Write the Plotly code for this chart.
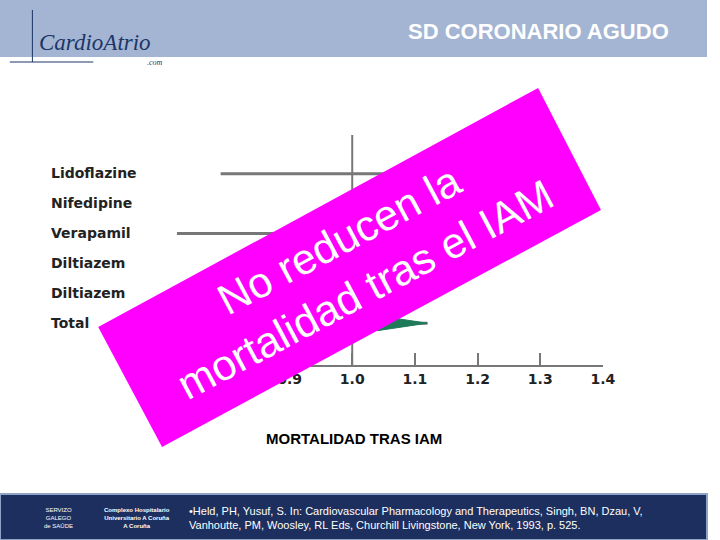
import plotly.graph_objects as go

# forest plot data (relative risk, 95% CI) - mostly hidden behind the overlay
studies = ["Lidoflazine", "Nifedipine", "Verapamil", "Diltiazem", "Diltiazem", "Total"]
rows = [6, 5, 4, 3, 2, 1]
rr = [1.10, 1.08, 0.93, 0.98, 1.0, 1.04]
ci_low = [0.79, 0.98, 0.72, 0.85, 0.86, 0.97]
ci_high = [1.30, 1.20, 1.20, 1.13, 1.13, 1.12]
ticks = [0.9, 1.0, 1.1, 1.2, 1.3, 1.4]

W, H = 720, 540


def px(x):
    return x / W


def py(y):
    return 1 - y / H


def note(x, y, text, size, color="white", family="Liberation Sans", xanchor="center", **kw):
    fig.add_annotation(x=px(x), y=py(y), xref="paper", yref="paper", text=text,
                       showarrow=False, xanchor=xanchor, yanchor="middle",
                       font=dict(family=family, size=size, color=color), **kw)


fig = go.Figure()

# CI lines
for y, lo, hi in zip(rows, ci_low, ci_high):
    fig.add_trace(go.Scatter(x=[lo, hi], y=[y, y], mode="lines",
                             line=dict(color="#777777", width=3), hoverinfo="skip"))
fig.add_trace(go.Scatter(x=rr[:-1], y=rows[:-1], mode="markers",
                         marker=dict(symbol="square", size=8, color="#1f7a5a")))
fig.add_trace(go.Scatter(x=[ci_low[-1], rr[-1], ci_high[-1], rr[-1], ci_low[-1]],
                         y=[1, 1.25, 1, 0.75, 1], mode="lines", fill="toself",
                         fillcolor="#1f7a5a", line=dict(color="#1f7a5a", width=1)))

fig.update_layout(
    width=W, height=H, showlegend=False,
    margin=dict(l=0, r=0, t=0, b=0),
    paper_bgcolor="white", plot_bgcolor="white",
    xaxis=dict(domain=[px(180), px(614)], range=[0.72, 1.4], tickvals=ticks,
               ticktext=[f"<b>{t:.1f}</b>" for t in ticks], ticks="inside", ticklen=12,
               tickwidth=2, tickcolor="#777777", showline=True, linecolor="#777777",
               linewidth=2, showgrid=False, zeroline=False,
               tickfont=dict(family="DejaVu Sans", size=14, color="#222222")),
    yaxis=dict(domain=[py(365), py(135)], range=[-0.4, 7.3],
               visible=False, showgrid=False, zeroline=False),
)

# reference line at RR = 1
fig.add_shape(type="line", x0=1.0, x1=1.0, y0=-0.4, y1=7.3, xref="x", yref="y",
              line=dict(color="#777777", width=2))

# study labels
for name, y in zip(studies, rows):
    note(50, 173 + (6 - y) * 30, f"<b>{name}</b>", 14, color="#222222",
         family="DejaVu Sans", xanchor="left")

# header and footer bands
fig.add_shape(type="rect", x0=0, x1=1, y0=py(57), y1=1, xref="paper", yref="paper",
              fillcolor="#a3b5d3", line_width=0, layer="below")
fig.add_shape(type="rect", x0=0, x1=1, y0=0, y1=py(494), xref="paper", yref="paper",
              fillcolor="#1d2f5e", line=dict(color="#8fa3c8", width=2))
note(548, 32, "<b>SD CORONARIO AGUDO</b>", 22)
note(38, 43, "<i>CardioAtrio</i>", 23, color="#1d3566", family="Liberation Serif", xanchor="left")
note(158, 62, "<i>.com</i>", 8, color="#1d3566", family="Liberation Serif")
fig.add_shape(type="line", x0=px(33), x1=px(33), y0=py(62), y1=py(10), xref="paper", yref="paper",
              line=dict(color="#1d3566", width=1))
fig.add_shape(type="line", x0=px(10), x1=px(95), y0=py(62), y1=py(62), xref="paper", yref="paper",
              line=dict(color="#1d3566", width=1))
note(60, 518, "SERVIZO<br>GALEGO<br>de SAÚDE", 6)
note(104, 518, "<b>Complexo Hospitalario<br>Universitario A Coruña<br>A Coruña</b>", 6, xanchor="left")
note(190, 518, "•Held, PH, Yusuf, S. In: Cardiovascular Pharmacology and Therapeutics, Singh, BN, Dzau, V,<br>"
               "Vanhoutte, PM, Woosley, RL Eds, Churchill Livingstone, New York, 1993, p. 525.",
     11, xanchor="left", align="left")

# caption
note(360, 438, "<b>MORTALIDAD TRAS IAM</b>", 15, color="black")

# magenta overlay box
pts = [(100, 327), (548, 88), (612, 210), (165, 447)]
path = "M " + " L ".join(f"{px(a):.4f} {py(b):.4f}" for a, b in pts) + " Z"
fig.add_shape(type="path", xref="paper", yref="paper", path=path,
              fillcolor="#ff00ff", line_width=0)
note(358, 265, "No reducen la<br>mortalidad tras el IAM", 43, textangle=-28)

fig.write_html("out.html", config={"displayModeBar": False})

# drop the default page margin so the slide fills the window
with open("out.html") as f:
    html = f.read()
html = html.replace("<body>", '<body style="margin:0">', 1)
with open("out.html", "w") as f:
    f.write(html)
